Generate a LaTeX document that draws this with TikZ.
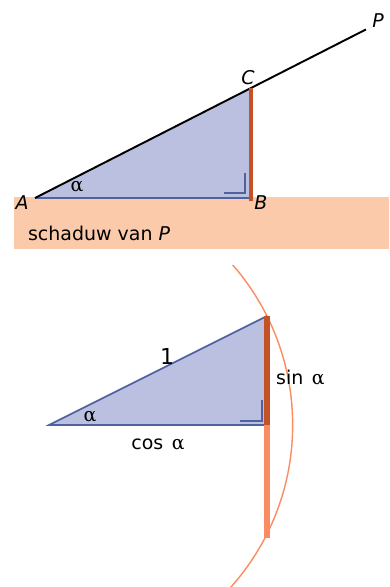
\documentclass[tikz,border=0pt]{standalone}
\usepackage{fontspec}
\setmainfont{DejaVu Sans}
\newfontfamily\greekfont{DejaVu Serif}
\usepackage{tikz}
\usetikzlibrary{calc}
\definecolor{shadowpeach}{RGB}{251,202,170}
\definecolor{trifill}{RGB}{187,192,224}
\definecolor{edgeblue}{RGB}{78,98,158}
\definecolor{darkorange}{RGB}{196,82,38}
\definecolor{lightorange}{RGB}{250,140,98}
\newcommand{\alf}{{\greekfont α}}

\begin{document}
\begin{tikzpicture}[x=0.02cm, y=-0.02cm,
    lbl/.style={font=\fontsize{10.8}{12}\selectfont, text=black, inner sep=1pt},
    ptlbl/.style={lbl, font=\fontsize{10.8}{12}\selectfont\itshape},
    edge/.style={draw=edgeblue, line width=0.9pt},
    bar/.style={line width=2.7pt, color=darkorange},
    corner/.style={draw=edgeblue, line width=0.9pt}
]
\useasboundingbox (0,0) rectangle (389,587);
% top: shadow of the pole
\fill[shadowpeach] (14,197) rectangle (389,249);
\coordinate (A) at (35,198);
\coordinate (B) at (251,198);
\coordinate (C) at (251,88);
\coordinate (P) at ($(A)!1.532!(C)$);
\fill[trifill] (A) -- (B) -- (C) -- cycle;
\draw[edge] (A) -- (B);
\draw[black, line width=1.1pt] (A) -- (P);
\draw[bar] ($(B)+(0,3)$) -- (C);
\draw[corner] (224,193) -- (245,193) -- (245,173);
\node[ptlbl] (lA) at (22,203) {A};
\node[ptlbl] (lB) at (261,203) {B};
\node[ptlbl] (lC) at (248,78) {C};
\node[ptlbl] (lP) at (378,21) {P};
\node[lbl] (aTop) at (77,187) {\alf};
\node[lbl, anchor=west] (shadow) at (26,233) {schaduw van \textit{P}};
% bottom: unit circle
\coordinate (O) at (49,425);
\coordinate (R) at (267,425);
\coordinate (T) at (267,316);
\coordinate (L) at (267,538);
\begin{scope}
  \clip (0,265) rectangle (389,587);
  \draw[lightorange, line width=0.8pt] (O) circle (4.874cm);
\end{scope}
\fill[trifill] (O) -- (R) -- (T) -- cycle;
\draw[edge] (T) -- (O) -- (R);
\draw[bar, line width=3.2pt, lightorange] (R) -- (L);
\draw[bar, line width=3.2pt] (R) -- (T);
\draw[corner] (240,421) -- (262,421) -- (262,400);
\node[lbl, font=\fontsize{12.5}{14}\selectfont] (one) at (167,356) {1};
\node[lbl, anchor=west] (sin) at (274,378) {sin\hspace{0.45em}\alf};
\node[lbl] (cos) at (158,444) {cos\hspace{0.45em}\alf};
\node[lbl] (aBot) at (90,417) {\alf};
\end{tikzpicture}
\end{document}
